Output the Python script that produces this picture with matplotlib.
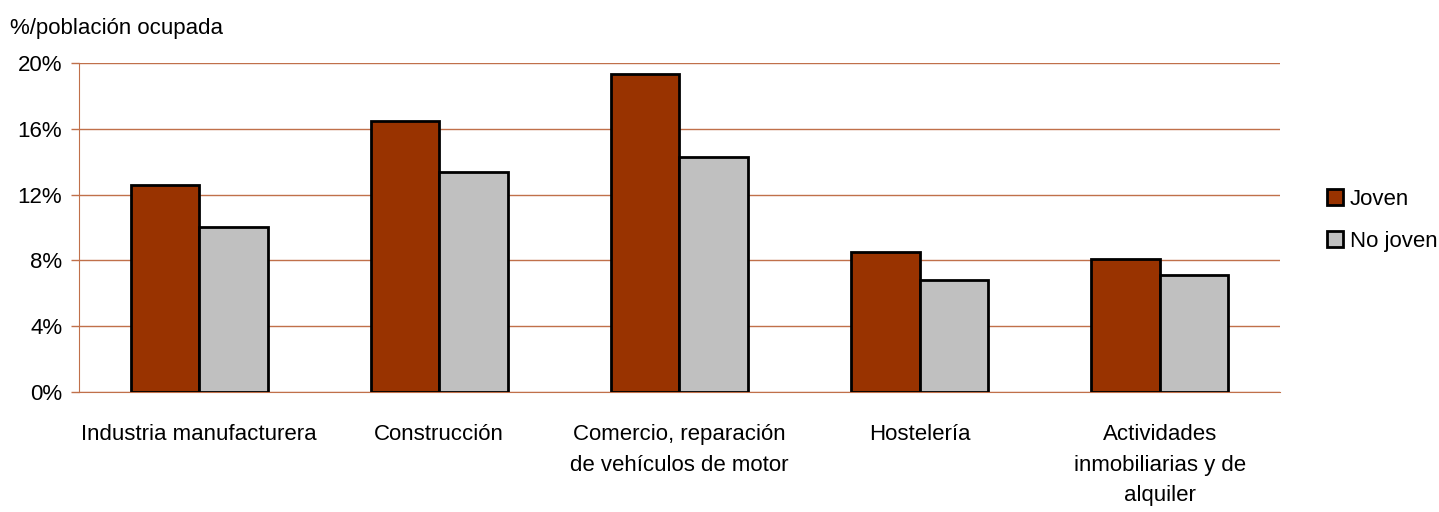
import matplotlib
matplotlib.use("Agg")
from matplotlib import pyplot as plt
import numpy as np

plt.rcParams['font.family'] = ['Liberation Sans Narrow', 'Liberation Sans', 'DejaVu Sans']

categories = ["Industria manufacturera", "Construcción",
              "Comercio, reparación\nde vehículos de motor", "Hostelería",
              "Actividades\ninmobiliarias y de\nalquiler"]
joven = [12.6, 16.5, 19.3, 8.5, 8.1]
no_joven = [10.0, 13.4, 14.3, 6.8, 7.1]
yticks = [0, 4, 8, 12, 16, 20]

brown = "#993300"
grid_color = "#c0704a"

fig = plt.figure(figsize=(14.39, 5.12), dpi=100)
ax = fig.add_axes([0.0549, 0.2344, 0.8346, 0.6426])

x = np.arange(len(categories))
w = 0.285
ax.bar(x - w / 2, joven, w, color=brown, edgecolor="black", linewidth=2.0, label="Joven", zorder=3)
ax.bar(x + w / 2, no_joven, w, color="#c0c0c0", edgecolor="black", linewidth=2.0, label="No joven", zorder=3)

ax.set_xlim(-0.5, len(categories) - 0.5)
ax.set_ylim(0, 20)
ax.set_yticks(yticks)
ax.set_yticklabels([f"{t}%" for t in yticks], fontsize=16)
ax.set_xticks(x)
ax.set_xticklabels(categories, fontsize=16, linespacing=1.6, va="top")
ax.tick_params(axis="x", length=0, pad=23)
ax.tick_params(axis="y", length=6, color=grid_color, width=1, pad=6)

ax.yaxis.grid(True, color=grid_color, linewidth=1)
ax.set_axisbelow(True)
for s in ["top", "right"]:
    ax.spines[s].set_visible(False)
ax.spines["left"].set_color(grid_color)
ax.spines["bottom"].set_color(grid_color)

fig.text(0.007, 0.945, "%/población ocupada", fontsize=16, va="center", ha="left")

ax.legend(loc="center left", bbox_to_anchor=(1.0265, 0.522), frameon=False, fontsize=16,
          handlelength=0.7, handleheight=0.7, handletextpad=0.3, labelspacing=0.95,
          borderaxespad=0.3)

fig.savefig("out.png", dpi=100)
